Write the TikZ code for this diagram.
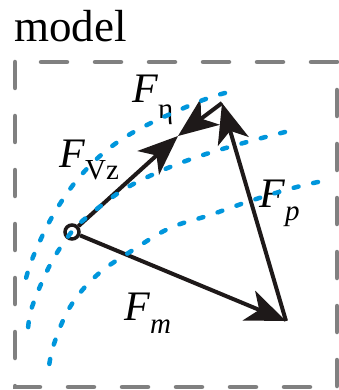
\documentclass[tikz,border=0pt]{standalone}
\usepackage{fontspec}
\setmainfont{Liberation Serif}
\usetikzlibrary{arrows.meta}

\definecolor{framegray}{RGB}{128,128,128}
\definecolor{layerblue}{RGB}{0,150,220}
\definecolor{forceblack}{RGB}{30,25,25}

\newcommand{\forcename}[1]{\textit{F}\lower13pt\hbox{\fontsize{29}{29}\selectfont #1}}

\tikzset{
  forcetip/.tip={Stealth[length=40pt 0 0, width=32pt 0 0, inset=11pt 0]}
}

\begin{document}
\begin{tikzpicture}[
  x=1pt, y=-1pt,
  frame/.style={draw=framegray, line width=4.5pt, dash pattern=on 26pt off 28pt, line cap=round},
  layer/.style={draw=layerblue, line width=4.5pt, dash pattern=on 5pt off 15pt, line cap=round},
  force/.style={draw=forceblack, line width=4pt, -forcetip},
  forcelabel/.style={anchor=base west, inner sep=0pt, font=\fontsize{42}{42}\selectfont},
  origin/.style={draw=forceblack, fill=white, circle, line width=3.5pt, minimum size=14pt, inner sep=0pt}
]
\useasboundingbox (0,0) rectangle (339,390);

\node[anchor=base west, inner sep=0pt, font=\fontsize{45}{45}\selectfont] (title) at (14,42) {model};
\draw[frame] (15,62) -- (15,387) -- (337,387) -- (337,62) -- cycle;

\node[origin] (O) at (72,232) {};
\coordinate (A) at (178,136);
\coordinate (B) at (222,103);
\coordinate (C) at (286,321);

\draw[force] (O) -- (A);
\draw[force] (O) -- (C);
\draw[force] (C) -- (B);
\draw[force] (B) -- (A);

\node[forcelabel] (Feta) at (132,103) {\forcename{\lower3pt\hbox{η}}};
\node[forcelabel] (Fvz) at (59,167) {\forcename{Vz}};
\node[forcelabel] (Fp) at (259,207) {\forcename{\textit{p}}};
\node[forcelabel] (Fm) at (124,320) {\forcename{\textit{m}}};

% layer boundaries
\draw[layer] plot[smooth, tension=0.6] coordinates {(225,93) (198,102) (143,127) (107,150) (77,180) (52,217) (33,257) (25,282)};
\draw[layer] plot[smooth, tension=0.6] coordinates {(285,132) (247,142) (203,155) (163,170) (123,190) (87,217) (70,234) (50,265) (32,307) (28,330)};
\draw[layer] plot[smooth, tension=0.6] coordinates {(318,182) (293,188) (253,200) (210,215) (170,228) (133,250) (97,275) (70,307) (53,347) (48,375)};

\end{tikzpicture}
\end{document}
